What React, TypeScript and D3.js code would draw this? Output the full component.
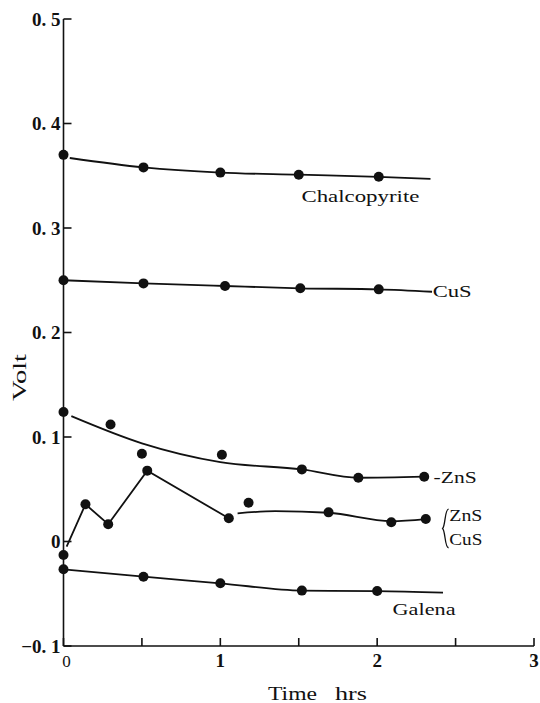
import React from "react";
import * as d3 from "d3";

// ---- data (time in hrs, potential in volts) ----
const xTicks = [0, 0.5, 1, 1.5, 2, 2.5, 3];
const xTickLabels = ["0", "", "1", "", "2", "", "3"];
const yTicks = [-0.1, 0, 0.1, 0.2, 0.3, 0.4, 0.5];
const yTickLabels = ["−0. 1", "0", "0. 1", "0. 2", "0. 3", "0. 4", "0. 5"];

const chalcoT = [0, 0.51, 1.0, 1.5, 2.01];
const chalcoV = [0.37, 0.358, 0.353, 0.351, 0.349];
const chalcoCurveT = [0.04, 0.51, 1.0, 1.5, 2.01, 2.34];
const chalcoCurveV = [0.367, 0.358, 0.353, 0.351, 0.349, 0.347];

const cusT = [0, 0.51, 1.03, 1.51, 2.01];
const cusV = [0.25, 0.247, 0.2445, 0.2423, 0.2413];
const cusCurveT = [0, 0.51, 1.03, 1.51, 2.01, 2.35];
const cusCurveV = [0.25, 0.247, 0.2445, 0.2423, 0.2413, 0.239];

const znsT = [0, 0.3, 0.5, 1.01, 1.52, 1.88, 2.3];
const znsV = [0.124, 0.112, 0.084, 0.083, 0.069, 0.061, 0.062];
const znsCurveT = [0.05, 0.5, 1.0, 1.52, 1.88, 2.3];
const znsCurveV = [0.12, 0.094, 0.076, 0.069, 0.061, 0.062];

const mixT = [0, 0.14, 0.285, 0.534, 1.054, 1.18, 1.69, 2.09, 2.31];
const mixV = [-0.013, 0.0356, 0.0165, 0.0678, 0.0222, 0.0371, 0.0279, 0.0184, 0.0215];
const mixPolyT = [0.02, 0.14, 0.285, 0.534, 1.054];
const mixPolyV = [-0.005, 0.0356, 0.0165, 0.0678, 0.0222];
const mixCurveT = [1.11, 1.35, 1.69, 2.09, 2.31];
const mixCurveV = [0.027, 0.029, 0.0275, 0.0195, 0.0215];

const galT = [0, 0.51, 1.0, 1.52, 2.0];
const galV = [-0.0266, -0.0337, -0.04, -0.047, -0.0474];
const galCurveT = [0, 0.51, 1.0, 1.52, 2.0, 2.42];
const galCurveV = [-0.0266, -0.0337, -0.04, -0.047, -0.0474, -0.049];

const W = 540;
const H = 703;
const serif = "'Liberation Serif', 'DejaVu Serif', serif";

export default function App() {
  const x = d3.scaleLinear().domain([0, 3]).range([63.5, 534]);
  const y = d3.scaleLinear().domain([-0.1, 0.5]).range([646, 19]);

  const smooth = d3
    .line<[number, number]>()
    .x((d) => x(d[0]))
    .y((d) => y(d[1]))
    .curve(d3.curveMonotoneX);
  const straight = d3
    .line<[number, number]>()
    .x((d) => x(d[0]))
    .y((d) => y(d[1]));

  const zip = (a: number[], b: number[]) => a.map((v, i) => [v, b[i]] as [number, number]);

  const curves = [
    zip(chalcoCurveT, chalcoCurveV),
    zip(cusCurveT, cusCurveV),
    zip(znsCurveT, znsCurveV),
    zip(mixCurveT, mixCurveV),
    zip(galCurveT, galCurveV),
  ];
  const points = [
    ...zip(chalcoT, chalcoV),
    ...zip(cusT, cusV),
    ...zip(znsT, znsV),
    ...zip(mixT, mixV),
    ...zip(galT, galV),
  ];

  const x0 = x(0);
  const yBottom = y(-0.1);

  // curly brace grouping the ZnS / CuS label
  const bx = x(2.43);
  const bTop = y(0.031);
  const bBot = y(-0.006);
  const bMid = (bTop + bBot) / 2;
  const brace = `M${bx + 4},${bTop} C${bx},${bTop} ${bx + 1},${bMid - 3} ${bx - 2},${bMid} C${bx + 1},${bMid + 3} ${bx},${bBot} ${bx + 4},${bBot}`;

  return (
    <svg
      width={W}
      height={H}
      style={{ position: "absolute", left: 0, top: 0, background: "#fff" }}
    >
      <g stroke="#111" strokeWidth={1.6} fill="none">
        {/* axes */}
        <line x1={x0} y1={y(0.5)} x2={x0} y2={yBottom} />
        <line x1={x0} y1={yBottom} x2={x(3)} y2={yBottom} />
        {yTicks.map((t) => (
          <line key={"yt" + t} x1={x0} x2={x0 + 8} y1={y(t)} y2={y(t)} />
        ))}
        {xTicks.map((t) => (
          <line key={"xt" + t} x1={x(t)} x2={x(t)} y1={yBottom} y2={yBottom - 8} />
        ))}
        {/* fitted curves */}
        {curves.map((c, i) => (
          <path key={"c" + i} d={smooth(c) || ""} strokeWidth={1.8} />
        ))}
        <path d={straight(zip(mixPolyT, mixPolyV)) || ""} strokeWidth={1.8} />
        <path d={brace} strokeWidth={1.3} />
      </g>
      {points.map((p, i) => (
        <circle key={"p" + i} cx={x(p[0])} cy={y(p[1])} r={5} fill="#111" />
      ))}

      {/* y tick labels */}
      <g fontFamily={serif} fontWeight="bold" fontSize={19} fill="#111" textAnchor="end">
        {yTicks.map((t, i) => (
          <text key={"yl" + t} x={x0 - 3} y={y(t)} dy="0.35em">
            {yTickLabels[i]}
          </text>
        ))}
      </g>
      {/* x tick labels */}
      <g fontFamily={serif} fontWeight="bold" fontSize={19} fill="#111" textAnchor="middle">
        {xTicks.map((t, i) =>
          xTickLabels[i] ? (
            <text
              key={"xl" + t}
              x={x(t) + (t === 0 ? 3 : 0)}
              y={yBottom + 21}
              fontWeight={t === 0 ? "normal" : "bold"}
              fontSize={t === 0 ? 17 : 19}
            >
              {xTickLabels[i]}
            </text>
          ) : null
        )}
      </g>

      {/* axis titles */}
      <g fontFamily={serif} fontSize={18} fill="#111">
        <text x={268} y={700} textLength={49} lengthAdjust="spacingAndGlyphs">
          Time
        </text>
        <text x={335} y={700} textLength={32} lengthAdjust="spacingAndGlyphs">
          hrs
        </text>
        <text
          transform={`translate(26,401) rotate(-90)`}
          textLength={47}
          lengthAdjust="spacingAndGlyphs"
        >
          Volt
        </text>
      </g>

      {/* series labels */}
      <g fontFamily={serif} fontSize={17} fill="#111">
        <text x={x(1.517)} y={y(0.325)} textLength={118} lengthAdjust="spacingAndGlyphs">
          Chalcopyrite
        </text>
        <text x={x(2.354)} y={y(0.234)} textLength={39} lengthAdjust="spacingAndGlyphs">
          CuS
        </text>
        <text x={x(2.36)} y={y(0.056)} textLength={43} lengthAdjust="spacingAndGlyphs">
          -ZnS
        </text>
        <text x={x(2.46)} y={y(0.0196)} textLength={33} lengthAdjust="spacingAndGlyphs">
          ZnS
        </text>
        <text x={x(2.46)} y={y(-0.0033)} textLength={33} lengthAdjust="spacingAndGlyphs">
          CuS
        </text>
        <text x={x(2.098)} y={y(-0.0703)} textLength={63} lengthAdjust="spacingAndGlyphs">
          Galena
        </text>
      </g>
    </svg>
  );
}
